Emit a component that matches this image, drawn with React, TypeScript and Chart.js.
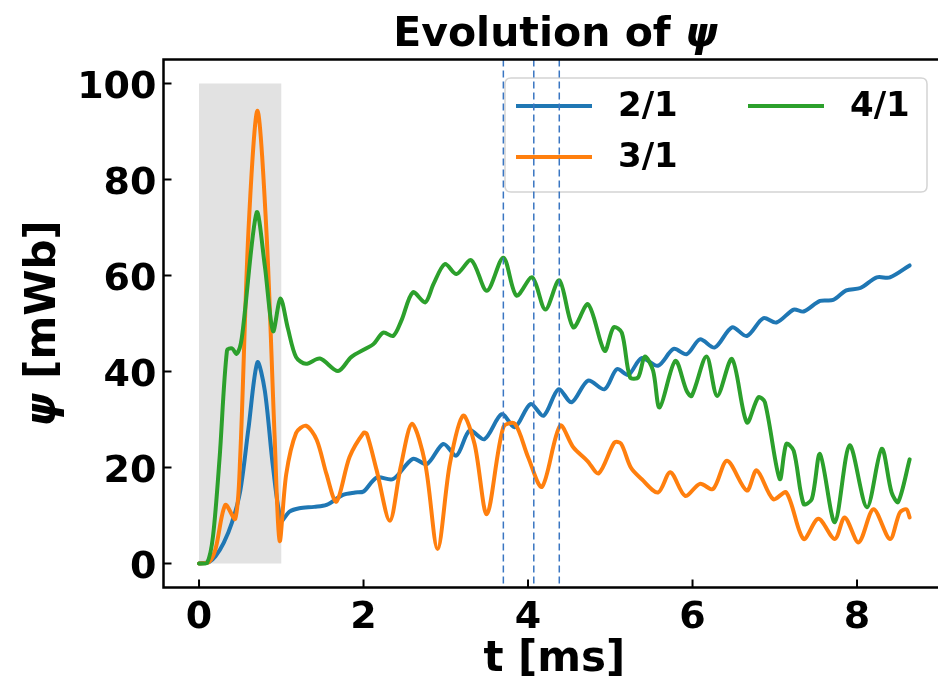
import React, { useEffect, useRef } from "react";
import { Chart, registerables } from "chart.js";

Chart.register(...registerables);

// ---------- data ----------
const seriesLabels = ["2/1", "3/1", "4/1"];
const seriesColors = ["#1f77b4", "#ff7f0e", "#2ca02c"];

const t21 = [0, 0.12, 0.2, 0.3, 0.4, 0.5, 0.6, 0.71, 0.8, 0.9, 1.0, 1.1, 1.22, 1.4, 1.55, 1.75, 1.9, 2.0, 2.16, 2.36, 2.6, 2.77, 2.97, 3.13, 3.29, 3.47, 3.68, 3.84, 4.03, 4.19, 4.37, 4.53, 4.73, 4.93, 5.08, 5.22, 5.38, 5.58, 5.77, 5.93, 6.09, 6.27, 6.48, 6.66, 6.86, 7.02, 7.23, 7.35, 7.55, 7.71, 7.87, 8.04, 8.24, 8.4, 8.64];
const v21 = [0, 0.3, 1.5, 4.3, 8.5, 15, 28, 41.9, 36, 20, 9.0, 10.8, 11.5, 11.8, 12.2, 14.3, 14.8, 15.0, 17.9, 17.6, 21.8, 20.7, 24.9, 22.5, 27.7, 25.9, 31.1, 28.4, 33.2, 30.8, 36.3, 33.6, 38.1, 36.3, 40.5, 39.3, 42.8, 41.2, 44.7, 43.6, 46.7, 45.0, 49.2, 47.4, 51.1, 50.2, 52.9, 52.5, 54.7, 54.9, 56.9, 57.4, 59.6, 59.6, 62.1];

const t31 = [0, 0.12, 0.2, 0.32, 0.44, 0.5, 0.6, 0.71, 0.82, 0.92, 0.98, 1.06, 1.18, 1.3, 1.43, 1.55, 1.67, 1.83, 2.0, 2.04, 2.16, 2.32, 2.45, 2.59, 2.75, 2.9, 3.05, 3.21, 3.35, 3.5, 3.7, 3.84, 4.0, 4.17, 4.39, 4.55, 4.72, 4.86, 5.05, 5.13, 5.25, 5.38, 5.58, 5.73, 5.91, 6.09, 6.25, 6.42, 6.66, 6.78, 6.98, 7.14, 7.35, 7.53, 7.73, 7.85, 8.02, 8.2, 8.4, 8.52, 8.6, 8.64];
const v31 = [0, 0.3, 3, 12.2, 9.3, 22, 69, 94.3, 69, 26, 4.7, 18.6, 27.2, 28.7, 25.8, 18.6, 12.9, 22.2, 27.2, 27, 19.4, 8.9, 20, 29.1, 20.8, 3.0, 20.8, 30.8, 24.9, 10.3, 28.4, 29.1, 22.2, 16.0, 28.7, 24.2, 21.4, 18.8, 25.2, 25.0, 20.0, 17.6, 14.8, 19.0, 14.1, 16.6, 15.5, 21.4, 15.2, 19.4, 13.4, 14.8, 5.1, 9.3, 5.1, 9.6, 4.4, 11.3, 5.1, 10.6, 11.3, 9.6];

const t41 = [0, 0.1, 0.17, 0.25, 0.34, 0.4, 0.46, 0.52, 0.7, 0.8, 0.9, 0.99, 1.08, 1.18, 1.3, 1.47, 1.69, 1.85, 2.03, 2.12, 2.24, 2.36, 2.46, 2.6, 2.75, 2.85, 2.99, 3.13, 3.31, 3.5, 3.7, 3.86, 4.05, 4.21, 4.38, 4.55, 4.73, 4.93, 5.04, 5.14, 5.24, 5.34, 5.42, 5.52, 5.6, 5.79, 5.93, 5.99, 6.17, 6.3, 6.48, 6.66, 6.8, 6.88, 7.06, 7.14, 7.23, 7.35, 7.45, 7.55, 7.73, 7.91, 8.12, 8.3, 8.42, 8.5, 8.64];
const v41 = [0, 0.2, 5.7, 22, 44.4, 44.8, 43.7, 47, 73.1, 62, 48.4, 55.2, 49, 43, 41.6, 42.7, 40.1, 43, 44.8, 45.7, 48.1, 47.4, 50.6, 56.5, 54.4, 58.2, 62.4, 60.3, 63.2, 56.8, 63.7, 55.8, 59.6, 52.9, 59.0, 49.2, 54.0, 44.3, 49.2, 48.1, 38.8, 38.8, 43.1, 40.2, 32.5, 42.2, 35.9, 34.9, 43.1, 34.9, 42.6, 29.4, 34.6, 33.6, 17.6, 24.9, 23.5, 12.4, 13.4, 22.8, 8.6, 24.6, 11.7, 23.9, 14.8, 12.8, 21.7];

const markerTimes = [3.7, 4.07, 4.38];
const shadeT = [0, 1];
const shadeV = [0, 100];

const xTickValues = [0, 2, 4, 6, 8];
const yTickValues = [0, 20, 40, 60, 80, 100];
const xRange = [-0.432, 9.072];
const yRange = [-5, 105];

const titleText = "Evolution of ";
const titleSymbol = "ψ";
const xAxisTitle = "t [ms]";
const yAxisSymbol = "ψ";
const yAxisRest = " [mWb]";

// ---------- drawing helpers ----------
const FF = "'DejaVu Sans', sans-serif";

function drawMixed(ctx: CanvasRenderingContext2D, parts: { text: string; font: string }[], cx: number, baseY: number) {
  let total = 0;
  const widths = parts.map((p) => {
    ctx.font = p.font;
    const w = ctx.measureText(p.text).width;
    total += w;
    return w;
  });
  let x = cx - total / 2;
  ctx.textAlign = "left";
  ctx.textBaseline = "alphabetic";
  parts.forEach((p, i) => {
    ctx.font = p.font;
    ctx.fillText(p.text, x, baseY);
    x += widths[i];
  });
}

const decorPlugin = {
  id: "decor",
  beforeDatasetsDraw(chart: any) {
    const { ctx, scales } = chart;
    const x = scales.x, y = scales.y;
    ctx.save();
    ctx.fillStyle = "#e2e2e2";
    const x0 = x.getPixelForValue(shadeT[0]);
    const x1 = x.getPixelForValue(shadeT[1]);
    const y0 = y.getPixelForValue(shadeV[1]);
    const y1 = y.getPixelForValue(shadeV[0]);
    ctx.fillRect(x0, y0, x1 - x0, y1 - y0);
    ctx.restore();
  },
  afterDraw(chart: any) {
    const { ctx, chartArea, scales } = chart;
    const x = scales.x, y = scales.y;
    const { left, right, top, bottom } = chartArea;
    ctx.save();

    // legend (2 columns)
    const lx = 505, ly = 78, lw = 422, lh = 114, r = 6;
    ctx.beginPath();
    ctx.moveTo(lx + r, ly);
    ctx.lineTo(lx + lw - r, ly);
    ctx.quadraticCurveTo(lx + lw, ly, lx + lw, ly + r);
    ctx.lineTo(lx + lw, ly + lh - r);
    ctx.quadraticCurveTo(lx + lw, ly + lh, lx + lw - r, ly + lh);
    ctx.lineTo(lx + r, ly + lh);
    ctx.quadraticCurveTo(lx, ly + lh, lx, ly + lh - r);
    ctx.lineTo(lx, ly + r);
    ctx.quadraticCurveTo(lx, ly, lx + r, ly);
    ctx.closePath();
    ctx.fillStyle = "rgba(255,255,255,0.8)";
    ctx.fill();
    ctx.strokeStyle = "#d4d4d4";
    ctx.lineWidth = 1.5;
    ctx.stroke();

    const entries = [
      { hx: 516, ty: 106 },
      { hx: 516, ty: 157 },
      { hx: 748, ty: 106 },
    ];
    ctx.font = `bold 34px ${FF}`;
    ctx.textAlign = "left";
    ctx.textBaseline = "middle";
    entries.forEach((e, i) => {
      ctx.strokeStyle = seriesColors[i];
      ctx.lineWidth = 4;
      ctx.beginPath();
      ctx.moveTo(e.hx, e.ty);
      ctx.lineTo(e.hx + 76, e.ty);
      ctx.stroke();
      ctx.fillStyle = "#000";
      ctx.fillText(seriesLabels[i], e.hx + 102, e.ty + 1);
    });

    // dashed marker lines
    ctx.strokeStyle = "#3a76c2";
    ctx.lineWidth = 1.5;
    ctx.setLineDash([7, 4]);
    markerTimes.forEach((t) => {
      const px = x.getPixelForValue(t);
      ctx.beginPath();
      ctx.moveTo(px, top);
      ctx.lineTo(px, bottom);
      ctx.stroke();
    });
    ctx.setLineDash([]);

    // spines
    ctx.strokeStyle = "#000";
    ctx.lineWidth = 2.5;
    ctx.beginPath();
    ctx.rect(left, top, right - left, bottom - top);
    ctx.stroke();

    // inward ticks
    ctx.lineWidth = 2;
    yTickValues.forEach((v) => {
      const py = y.getPixelForValue(v);
      ctx.beginPath();
      ctx.moveTo(left, py);
      ctx.lineTo(left + 8, py);
      ctx.stroke();
    });
    xTickValues.forEach((v) => {
      const px = x.getPixelForValue(v);
      ctx.beginPath();
      ctx.moveTo(px, bottom);
      ctx.lineTo(px, bottom - 8);
      ctx.stroke();
    });

    // tick labels
    ctx.fillStyle = "#000";
    ctx.font = `bold 38px ${FF}`;
    ctx.textAlign = "right";
    ctx.textBaseline = "alphabetic";
    yTickValues.forEach((v) => {
      const py = y.getPixelForValue(v);
      ctx.fillText(String(v), left - 7, py + 14);
    });
    ctx.textAlign = "center";
    xTickValues.forEach((v) => {
      const px = x.getPixelForValue(v);
      ctx.fillText(String(v), px, 628);
    });

    // title
    const cx = (left + right) / 2;
    drawMixed(ctx, [
      { text: titleText, font: `bold 41px ${FF}` },
      { text: titleSymbol, font: `italic bold 41px ${FF}` },
    ], cx + 1, 46);

    // x axis title
    drawMixed(ctx, [{ text: xAxisTitle, font: `bold 42px ${FF}` }], cx, 671);

    // y axis title
    ctx.save();
    ctx.translate(55, (top + bottom) / 2);
    ctx.rotate(-Math.PI / 2);
    drawMixed(ctx, [
      { text: yAxisSymbol, font: `italic bold 42px ${FF}` },
      { text: yAxisRest, font: `bold 42px ${FF}` },
    ], 0, 0);
    ctx.restore();

    ctx.restore();
  },
};

function pts(t: number[], v: number[]) {
  return t.map((tt, i) => ({ x: tt, y: v[i] }));
}

export default function App() {
  const ref = useRef<HTMLCanvasElement>(null);
  useEffect(() => {
    const canvas = ref.current;
    if (!canvas) return;
    const series = [
      [t21, v21],
      [t31, v31],
      [t41, v41],
    ];
    const chart = new Chart(canvas, {
      type: "line",
      data: {
        datasets: series.map((s, i) => ({
          label: seriesLabels[i],
          data: pts(s[0], s[1]),
          borderColor: seriesColors[i],
          backgroundColor: seriesColors[i],
          borderWidth: 4,
          borderJoinStyle: "round" as const,
          borderCapStyle: "round" as const,
          pointRadius: 0,
          fill: false,
          tension: 0.3,
          order: 2 - i,
        })),
      },
      options: {
        responsive: false,
        animation: false,
        events: [],
        layout: { padding: { left: 163.5, top: 59.5, right: 14.8, bottom: 95.5 } },
        scales: {
          x: { type: "linear", min: xRange[0], max: xRange[1], display: false },
          y: { type: "linear", min: yRange[0], max: yRange[1], display: false },
        },
        plugins: {
          legend: { display: false },
          title: { display: false },
          tooltip: { enabled: false },
        },
      },
      plugins: [decorPlugin],
    });
    return () => chart.destroy();
  }, []);

  return (
    <div
      style={{
        position: "fixed",
        left: 0,
        top: 0,
        width: 938,
        height: 683,
        overflow: "hidden",
        background: "#fff",
      }}
    >
      <canvas ref={ref} width={960} height={683} style={{ display: "block" }} />
    </div>
  );
}
